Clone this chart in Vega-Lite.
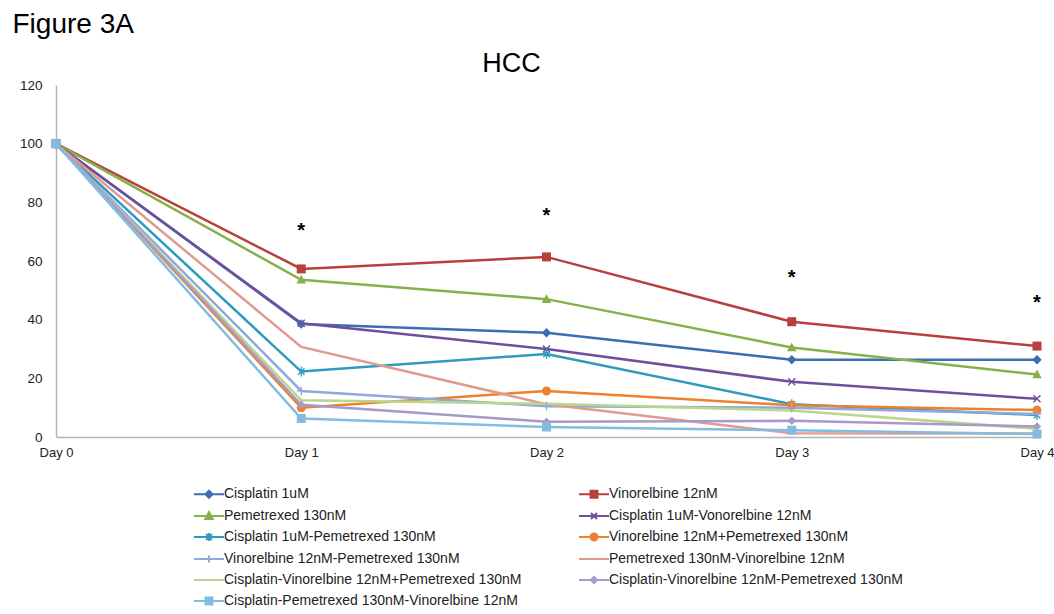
{
  "$schema": "https://vega.github.io/schema/vega-lite/v6.json",
  "width": 981,
  "height": 352,
  "autosize": {"type": "none"},
  "padding": {"left": 56, "top": 85, "right": 17, "bottom": 177},
  "background": "white",
  "config": {"view": {"stroke": null}, "font": "Liberation Sans"},
  "title": {"text": "HCC", "fontSize": 27, "fontWeight": "normal", "font": "Liberation Sans", "color": "#000000", "anchor": "middle", "dx": -35, "dy": 80, "offset": 12},
  "datasets": {
    "series": [
      {"treatment": "Cisplatin 1uM", "day": "Day 0", "viability": 100},
      {"treatment": "Cisplatin 1uM", "day": "Day 1", "viability": 38.5},
      {"treatment": "Cisplatin 1uM", "day": "Day 2", "viability": 35.5},
      {"treatment": "Cisplatin 1uM", "day": "Day 3", "viability": 26.3},
      {"treatment": "Cisplatin 1uM", "day": "Day 4", "viability": 26.3},
      {"treatment": "Vinorelbine 12nM", "day": "Day 0", "viability": 100},
      {"treatment": "Vinorelbine 12nM", "day": "Day 1", "viability": 57.3},
      {"treatment": "Vinorelbine 12nM", "day": "Day 2", "viability": 61.4},
      {"treatment": "Vinorelbine 12nM", "day": "Day 3", "viability": 39.3},
      {"treatment": "Vinorelbine 12nM", "day": "Day 4", "viability": 31},
      {"treatment": "Pemetrexed 130nM", "day": "Day 0", "viability": 100},
      {"treatment": "Pemetrexed 130nM", "day": "Day 1", "viability": 53.6},
      {"treatment": "Pemetrexed 130nM", "day": "Day 2", "viability": 47},
      {"treatment": "Pemetrexed 130nM", "day": "Day 3", "viability": 30.5},
      {"treatment": "Pemetrexed 130nM", "day": "Day 4", "viability": 21.3},
      {"treatment": "Cisplatin 1uM-Vonorelbine  12nM", "day": "Day 0", "viability": 100},
      {"treatment": "Cisplatin 1uM-Vonorelbine  12nM", "day": "Day 1", "viability": 38.8},
      {"treatment": "Cisplatin 1uM-Vonorelbine  12nM", "day": "Day 2", "viability": 30},
      {"treatment": "Cisplatin 1uM-Vonorelbine  12nM", "day": "Day 3", "viability": 18.8},
      {"treatment": "Cisplatin 1uM-Vonorelbine  12nM", "day": "Day 4", "viability": 13},
      {"treatment": "Cisplatin 1uM-Pemetrexed  130nM", "day": "Day 0", "viability": 100},
      {"treatment": "Cisplatin 1uM-Pemetrexed  130nM", "day": "Day 1", "viability": 22.3},
      {"treatment": "Cisplatin 1uM-Pemetrexed  130nM", "day": "Day 2", "viability": 28.3},
      {"treatment": "Cisplatin 1uM-Pemetrexed  130nM", "day": "Day 3", "viability": 11.2},
      {"treatment": "Cisplatin 1uM-Pemetrexed  130nM", "day": "Day 4", "viability": 7.5},
      {"treatment": "Vinorelbine 12nM+Pemetrexed  130nM", "day": "Day 0", "viability": 100},
      {"treatment": "Vinorelbine 12nM+Pemetrexed  130nM", "day": "Day 1", "viability": 10},
      {"treatment": "Vinorelbine 12nM+Pemetrexed  130nM", "day": "Day 2", "viability": 15.7},
      {"treatment": "Vinorelbine 12nM+Pemetrexed  130nM", "day": "Day 3", "viability": 10.8},
      {"treatment": "Vinorelbine 12nM+Pemetrexed  130nM", "day": "Day 4", "viability": 9.2},
      {"treatment": "Vinorelbine 12nM-Pemetrexed  130nM", "day": "Day 0", "viability": 100},
      {"treatment": "Vinorelbine 12nM-Pemetrexed  130nM", "day": "Day 1", "viability": 15.7},
      {"treatment": "Vinorelbine 12nM-Pemetrexed  130nM", "day": "Day 2", "viability": 10.5},
      {"treatment": "Vinorelbine 12nM-Pemetrexed  130nM", "day": "Day 3", "viability": 10},
      {"treatment": "Vinorelbine 12nM-Pemetrexed  130nM", "day": "Day 4", "viability": 7.8},
      {"treatment": "Pemetrexed 130nM-Vinorelbine  12nM", "day": "Day 0", "viability": 100},
      {"treatment": "Pemetrexed 130nM-Vinorelbine  12nM", "day": "Day 1", "viability": 30.7},
      {"treatment": "Pemetrexed 130nM-Vinorelbine  12nM", "day": "Day 2", "viability": 11.2},
      {"treatment": "Pemetrexed 130nM-Vinorelbine  12nM", "day": "Day 3", "viability": 1.3},
      {"treatment": "Pemetrexed 130nM-Vinorelbine  12nM", "day": "Day 4", "viability": 1.2},
      {"treatment": "Cisplatin-Vinorelbine 12nM+Pemetrexed  130nM", "day": "Day 0", "viability": 100},
      {"treatment": "Cisplatin-Vinorelbine 12nM+Pemetrexed  130nM", "day": "Day 1", "viability": 12.5},
      {"treatment": "Cisplatin-Vinorelbine 12nM+Pemetrexed  130nM", "day": "Day 2", "viability": 11.3},
      {"treatment": "Cisplatin-Vinorelbine 12nM+Pemetrexed  130nM", "day": "Day 3", "viability": 9},
      {"treatment": "Cisplatin-Vinorelbine 12nM+Pemetrexed  130nM", "day": "Day 4", "viability": 2.8},
      {"treatment": "Cisplatin-Vinorelbine 12nM-Pemetrexed  130nM", "day": "Day 0", "viability": 100},
      {"treatment": "Cisplatin-Vinorelbine 12nM-Pemetrexed  130nM", "day": "Day 1", "viability": 11},
      {"treatment": "Cisplatin-Vinorelbine 12nM-Pemetrexed  130nM", "day": "Day 2", "viability": 5.2},
      {"treatment": "Cisplatin-Vinorelbine 12nM-Pemetrexed  130nM", "day": "Day 3", "viability": 5.5},
      {"treatment": "Cisplatin-Vinorelbine 12nM-Pemetrexed  130nM", "day": "Day 4", "viability": 3.6},
      {"treatment": "Cisplatin-Pemetrexed 130nM-Vinorelbine  12nM", "day": "Day 0", "viability": 100},
      {"treatment": "Cisplatin-Pemetrexed 130nM-Vinorelbine  12nM", "day": "Day 1", "viability": 6.3},
      {"treatment": "Cisplatin-Pemetrexed 130nM-Vinorelbine  12nM", "day": "Day 2", "viability": 3.4},
      {"treatment": "Cisplatin-Pemetrexed 130nM-Vinorelbine  12nM", "day": "Day 3", "viability": 2.3},
      {"treatment": "Cisplatin-Pemetrexed 130nM-Vinorelbine  12nM", "day": "Day 4", "viability": 1}
    ],
    "stars": [
      {"day": "Day 1", "position": 71.3, "mark": "*"},
      {"day": "Day 2", "position": 76.5, "mark": "*"},
      {"day": "Day 3", "position": 55.3, "mark": "*"},
      {"day": "Day 4", "position": 46.8, "mark": "*"}
    ]
  },
  "encoding": {
    "x": {
      "field": "day", "type": "ordinal",
      "scale": {"type": "point", "padding": 0, "domain": ["Day 0", "Day 1", "Day 2", "Day 3", "Day 4"]},
      "axis": {"title": null, "labelAngle": 0, "ticks": false, "grid": false, "domainColor": "#b4b4b4", "domainWidth": 1.5, "labelFontSize": 13, "labelColor": "#222222", "labelFont": "Liberation Sans", "labelPadding": 9}
    }
  },
  "layer": [
    {
      "data": {"name": "series"},
      "mark": {"type": "line", "strokeWidth": 2.5},
      "encoding": {
        "y": {
          "field": "viability", "type": "quantitative",
          "scale": {"domain": [0, 120], "nice": false},
          "axis": {"values": [0, 20, 40, 60, 80, 100, 120], "ticks": false, "grid": false, "domainColor": "#b4b4b4", "domainWidth": 1.5, "labelFontSize": 13.5, "labelColor": "#222222", "labelFont": "Liberation Sans", "labelPadding": 14,
                   "title": "Figure 3A", "titleAngle": 0, "titleX": -44, "titleY": -53, "titleAlign": "left", "titleBaseline": "alphabetic", "titleFontSize": 28, "titleFontWeight": "normal", "titleColor": "#000000", "titleFont": "Liberation Sans"}
        },
        "stroke": {
          "field": "treatment", "type": "nominal",
          "scale": {
            "domain": ["Cisplatin 1uM", "Vinorelbine 12nM", "Pemetrexed 130nM", "Cisplatin 1uM-Vonorelbine  12nM", "Cisplatin 1uM-Pemetrexed  130nM", "Vinorelbine 12nM+Pemetrexed  130nM", "Vinorelbine 12nM-Pemetrexed  130nM", "Pemetrexed 130nM-Vinorelbine  12nM", "Cisplatin-Vinorelbine 12nM+Pemetrexed  130nM", "Cisplatin-Vinorelbine 12nM-Pemetrexed  130nM", "Cisplatin-Pemetrexed 130nM-Vinorelbine  12nM"],
            "range": ["#3c6eb4", "#b8403c", "#86b04a", "#6e4f9e", "#2f9ac0", "#ee8130", "#8fa9d8", "#e19a90", "#b9d68a", "#a899c8", "#82bde0"]
          },
          "legend": {
            "orient": "none", "legendX": 146, "legendY": 402, "columns": 2, "direction": "horizontal", "title": null, "padding": 0,
            "symbolSize": 100, "labelOffset": 8, "columnPadding": 49, "rowPadding": 6,
            "labelFontSize": 14, "labelFont": "Liberation Sans", "labelColor": "#222222", "labelLimit": 500,
            "encode": {
              "symbols": {
                "update": {
                  "shape": {"signal": "{'Cisplatin 1uM': 'M-3,0L3,0M0,-0.7L0.7,0L0,0.7L-0.7,0Z', 'Vinorelbine 12nM': 'M-3,0L3,0M-0.7,-0.7L0.7,-0.7L0.7,0.7L-0.7,0.7Z', 'Pemetrexed 130nM': 'M-3,0L3,0M0,-0.8L0.75,0.6L-0.75,0.6Z', 'Cisplatin 1uM-Vonorelbine  12nM': 'M-3,0L3,0M-0.6,-0.6L0.6,0.6M-0.6,0.6L0.6,-0.6', 'Cisplatin 1uM-Pemetrexed  130nM': 'M-3,0L3,0M-0.6,-0.6L0.6,0.6M-0.6,0.6L0.6,-0.6M0,-0.8L0,0.8', 'Vinorelbine 12nM+Pemetrexed  130nM': 'M-3,0L3,0M-0.7,0A0.7,0.7,0,1,0,0.7,0A0.7,0.7,0,1,0,-0.7,0Z', 'Vinorelbine 12nM-Pemetrexed  130nM': 'M-3,0L3,0M0,-0.7L0,0.7', 'Pemetrexed 130nM-Vinorelbine  12nM': 'M-3,0L3,0', 'Cisplatin-Vinorelbine 12nM+Pemetrexed  130nM': 'M-3,0L3,0', 'Cisplatin-Vinorelbine 12nM-Pemetrexed  130nM': 'M-3,0L3,0M0,-0.6L0.6,0L0,0.6L-0.6,0Z', 'Cisplatin-Pemetrexed 130nM-Vinorelbine  12nM': 'M-3,0L3,0M-0.7,-0.7L0.7,-0.7L0.7,0.7L-0.7,0.7Z'}[datum.value]"},
                  "fill": {"scale": "stroke", "field": "value"},
                  "strokeWidth": {"value": 2},
                  "opacity": {"value": 1}
                }
              }
            }
          }
        }
      }
    },
    {
      "data": {"name": "series"},
      "mark": {"type": "point", "filled": true, "size": 100, "strokeWidth": 0, "opacity": 1},
      "encoding": {
        "y": {"field": "viability", "type": "quantitative"},
        "shape": {
          "field": "treatment", "type": "nominal", "legend": null, "sort": null,
          "scale": {
            "range": [
              "M0,-0.95L0.95,0L0,0.95L-0.95,0Z",
              "M-0.9,-0.9L0.9,-0.9L0.9,0.9L-0.9,0.9Z",
              "M0,-1L0.95,0.75L-0.95,0.75Z",
              "M-0.6,-0.8L0,-0.2L0.6,-0.8L0.8,-0.6L0.2,0L0.8,0.6L0.6,0.8L0,0.2L-0.6,0.8L-0.8,0.6L-0.2,0L-0.8,-0.6Z",
              "M-0.55,-0.75L0,-0.2L0.55,-0.75L0.75,-0.55L0.2,0L0.75,0.55L0.55,0.75L0,0.2L-0.55,0.75L-0.75,0.55L-0.2,0L-0.75,-0.55ZM-0.13,-1L0.13,-1L0.13,1L-0.13,1Z",
              "M-0.9,0A0.9,0.9,0,1,0,0.9,0A0.9,0.9,0,1,0,-0.9,0Z",
              "M-0.13,-0.9L0.13,-0.9L0.13,-0.13L0.9,-0.13L0.9,0.13L0.13,0.13L0.13,0.9L-0.13,0.9L-0.13,0.13L-0.9,0.13L-0.9,-0.13L-0.13,-0.13Z",
              "M0,0",
              "M0,0",
              "M0,-0.85L0.85,0L0,0.85L-0.85,0Z",
              "M-0.9,-0.9L0.9,-0.9L0.9,0.9L-0.9,0.9Z"
            ]
          }
        },
        "fill": {
          "field": "treatment", "type": "nominal", "legend": null, "sort": null,
          "scale": {
            "range": ["#3c6eb4", "#b8403c", "#86b04a", "#6e4f9e", "#2f9ac0", "#ee8130", "#8fa9d8", "#e19a90", "#b9d68a", "#a899c8", "#82bde0"]
          }
        }
      }
    },
    {
      "data": {"name": "stars"},
      "mark": {"type": "text", "fontSize": 20, "fontWeight": "bold", "font": "Liberation Sans", "color": "#000000", "baseline": "middle", "dy": 3},
      "encoding": {
        "y": {"field": "position", "type": "quantitative"},
        "text": {"field": "mark"}
      }
    }
  ]
}
